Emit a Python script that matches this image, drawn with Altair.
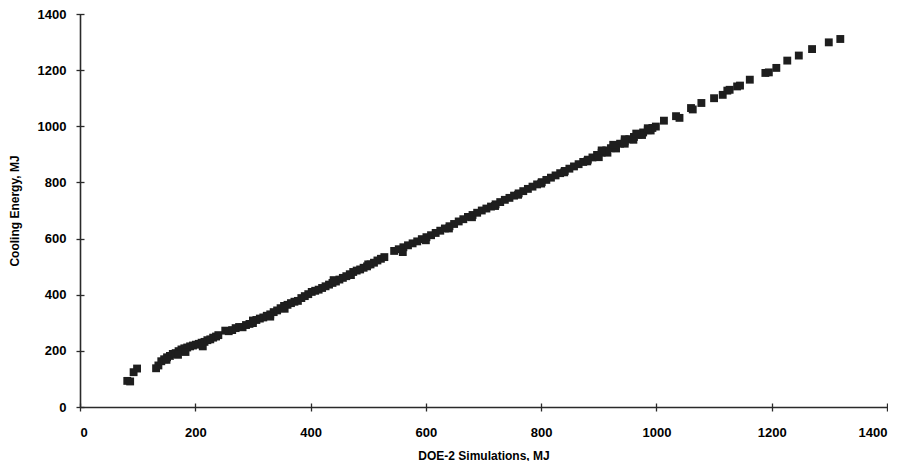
import altair as alt
import pandas as pd

# Lower isolated points
x_low = [82, 87, 93, 99]
y_low = [93, 91, 124, 137]

# Dense band, segment A (about 130-240)
x_a = [132, 136, 141, 146, 151, 156, 161, 166, 171, 176, 181, 186, 191, 196, 201, 206, 211, 216, 221, 226, 231, 236, 240, 213, 183, 150, 170]
y_a = [138, 148, 163, 170, 177, 182, 189, 192, 199, 205, 209, 212, 216, 219, 222, 225, 229, 232, 238, 241, 247, 251, 256, 216, 196, 168, 186]

# Segment B (about 250-380)
x_b = [252, 258, 264, 270, 276, 282, 288, 294, 300, 306, 312, 318, 324, 330, 336, 342, 348, 354, 360, 366, 372, 378, 330, 355, 300]
y_b = [272, 270, 274, 281, 285, 284, 292, 296, 299, 310, 315, 319, 325, 330, 338, 344, 352, 360, 364, 370, 375, 378, 322, 350, 308]

# Segment C (about 384-530)
x_c = [384, 390, 396, 402, 408, 414, 420, 426, 432, 438, 444, 450, 456, 462, 468, 474, 480, 486, 492, 498, 504, 510, 516, 522, 528, 440, 470, 500]
y_c = [388, 395, 402, 410, 414, 418, 424, 430, 436, 442, 447, 454, 460, 466, 473, 481, 486, 490, 496, 501, 508, 514, 522, 528, 534, 452, 470, 508]

# Segment D (about 545-1000)
x_d = [545, 553, 561, 569, 577, 585, 593, 601, 609, 617, 625, 633, 641, 649, 657, 665, 673, 681, 689, 697,
       705, 713, 721, 729, 737, 745, 753, 761, 769, 777, 785, 793, 801, 809, 817, 825, 833, 841, 849, 857,
       865, 873, 881, 889, 897, 905, 913, 921, 929, 937, 945, 953, 961, 969, 977, 985, 993, 999,
       900, 915, 930, 945, 960, 975, 990, 905, 925, 945, 965, 985,
       560, 600, 640, 680, 720, 760, 800, 840, 880]
y_d = [556, 562, 569, 576, 583, 590, 598, 605, 612, 620, 628, 636, 644, 652, 661, 669, 677, 684, 692, 700,
       707, 714, 722, 730, 738, 745, 753, 761, 769, 777, 785, 793, 801, 809, 817, 825, 833, 841, 849, 857,
       865, 873, 881, 889, 898, 906, 914, 922, 930, 938, 946, 954, 962, 970, 978, 986, 994, 999,
       890, 906, 921, 938, 952, 969, 985, 914, 934, 954, 974, 993,
       552, 594, 636, 676, 716, 756, 796, 836, 875]

# Sparse upper points
x_up = [1013, 1034, 1040, 1060, 1063, 1078, 1100, 1115, 1123, 1127, 1140, 1145, 1162, 1189, 1195, 1208, 1227, 1247, 1270, 1299, 1319]
y_up = [1020, 1036, 1030, 1065, 1060, 1083, 1100, 1112, 1127, 1130, 1142, 1145, 1166, 1190, 1192, 1208, 1234, 1252, 1275, 1299, 1311]

xs = x_low + x_a + x_b + x_c + x_d + x_up
ys = y_low + y_a + y_b + y_c + y_d + y_up
df = pd.DataFrame({"doe2": xs, "cool": ys})

FONT = "Liberation Sans"
ticks = [0, 200, 400, 600, 800, 1000, 1200, 1400]

xscale = alt.Scale(domain=[0, 1400], nice=False, zero=True)
yscale = alt.Scale(domain=[0, 1400], nice=False, zero=True)

main_x_axis = alt.Axis(values=ticks, format="d", title="DOE-2 Simulations, MJ", grid=False,
                       domainColor="#2a2a2a", domainWidth=1.6, ticks=False,
                       labelFont=FONT, labelFontSize=13, labelFontWeight="bold", labelColor="#000000",
                       labelPadding=19, titleFont=FONT, titleFontSize=12, titleFontWeight="bold",
                       titleColor="#000000", titlePadding=11)
main_y_axis = alt.Axis(values=ticks, format="d", title="Cooling Energy, MJ", grid=False,
                       domainColor="#2a2a2a", domainWidth=1.6, ticks=False,
                       labelFont=FONT, labelFontSize=13, labelFontWeight="bold", labelColor="#000000",
                       labelPadding=14, titleFont=FONT, titleFontSize=12, titleFontWeight="bold",
                       titleColor="#000000", titlePadding=16)

points = alt.Chart(df).mark_point(shape="square", filled=True, size=62, color="#1e1e1e", opacity=1).encode(
    x=alt.X("doe2:Q", scale=xscale, axis=main_x_axis),
    y=alt.Y("cool:Q", scale=yscale, axis=main_y_axis),
)

inner_x_axis = alt.Axis(values=ticks, orient="bottom", title=None, labels=False, domain=False, grid=False,
                        tickColor="#2a2a2a", tickSize=8, tickWidth=1.3, offset=-4)
inner_y_axis = alt.Axis(values=ticks, orient="left", title=None, labels=False, domain=False, grid=False,
                        tickColor="#2a2a2a", tickSize=8, tickWidth=1.3, offset=-4)

inner = alt.Chart(df).mark_point(opacity=0).encode(
    x=alt.X("doe2:Q", scale=xscale, axis=inner_x_axis),
    y=alt.Y("cool:Q", scale=yscale, axis=inner_y_axis),
)

chart = alt.layer(points, inner).resolve_axis(x="independent", y="independent").properties(
    width=807, height=393,
    padding={"left": 0, "top": 0, "right": 0, "bottom": 0},
    background="white",
).configure_view(stroke=None)

chart.save("out.html", embed_options={"renderer": "svg", "actions": False})
